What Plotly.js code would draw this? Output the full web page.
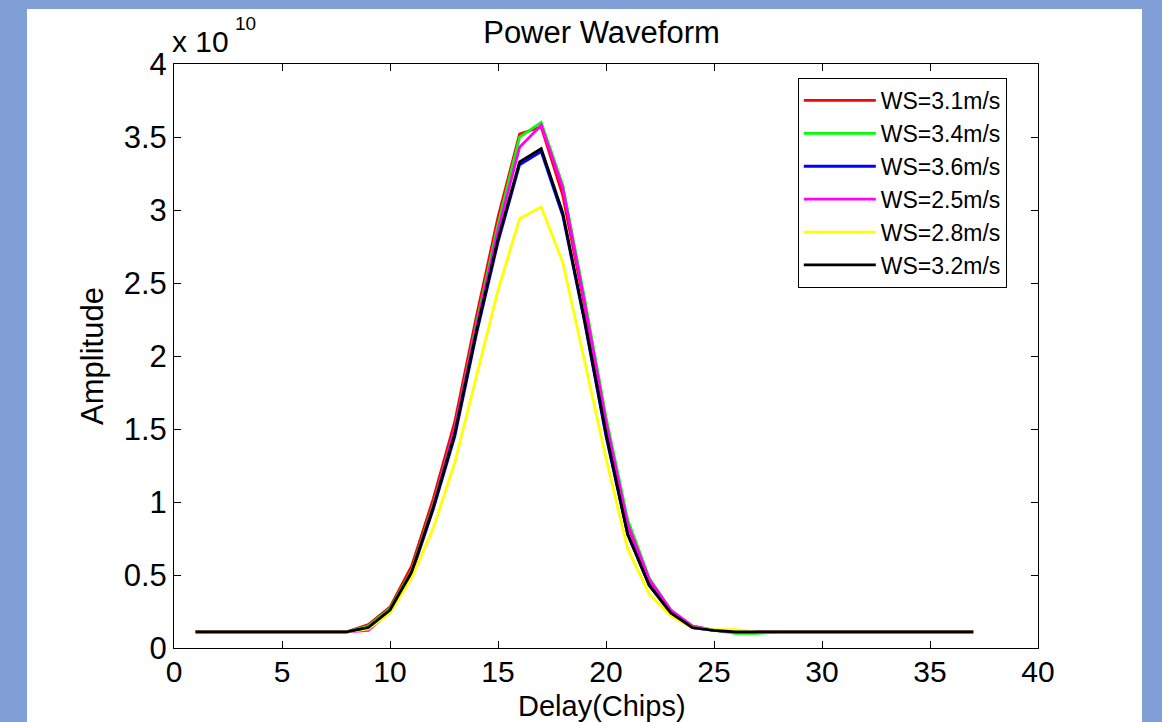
<!DOCTYPE html>
<html>
<head>
<meta charset="utf-8">
<script src="https://cdn.plot.ly/plotly-3.0.1.min.js"></script>
<style>
  html, body { margin: 0; padding: 0; background: #7f9fd6; width: 1162px; height: 722px; overflow: hidden; }
  #chart { position: absolute; left: 27px; top: 9px; width: 1115px; height: 713px; background: #ffffff; }
</style>
</head>
<body>
<div id="chart"></div>
<script>
// Delay in chips
const delay = [1,2,3,4,5,6,7,8,9,10,11,12,13,14,15,16,17,18,19,20,21,22,23,24,25,26,27,28,29,30,31,32,33,34,35,36,37];

// Amplitudes in units of 1e10
const SCALE = 1e10;
const ws31 = [0.11,0.11,0.11,0.11,0.11,0.11,0.11,0.11,0.16,0.28,0.56,1.02,1.55,2.27,2.95,3.52,3.57,3.10,2.35,1.52,0.84,0.46,0.25,0.15,0.12,0.11,0.11,0.11,0.11,0.11,0.11,0.11,0.11,0.11,0.11,0.11,0.11];
const ws34 = [0.11,0.11,0.11,0.11,0.11,0.11,0.11,0.11,0.15,0.27,0.53,0.98,1.50,2.22,2.90,3.50,3.60,3.17,2.40,1.58,0.88,0.48,0.26,0.15,0.12,0.10,0.10,0.11,0.11,0.11,0.11,0.11,0.11,0.11,0.11,0.11,0.11];
const ws36 = [0.11,0.11,0.11,0.11,0.11,0.11,0.11,0.11,0.14,0.26,0.51,0.95,1.45,2.15,2.78,3.31,3.40,2.96,2.24,1.45,0.78,0.43,0.24,0.14,0.12,0.11,0.11,0.11,0.11,0.11,0.11,0.11,0.11,0.11,0.11,0.11,0.11];
const ws25 = [0.11,0.11,0.11,0.11,0.11,0.11,0.11,0.11,0.12,0.25,0.52,0.97,1.50,2.20,2.86,3.43,3.58,3.15,2.37,1.55,0.85,0.47,0.26,0.15,0.12,0.11,0.11,0.11,0.11,0.11,0.11,0.11,0.11,0.11,0.11,0.11,0.11];
const ws28 = [0.11,0.11,0.11,0.11,0.11,0.11,0.11,0.11,0.13,0.24,0.48,0.82,1.27,1.85,2.45,2.94,3.02,2.64,1.96,1.30,0.68,0.37,0.22,0.14,0.125,0.125,0.11,0.11,0.11,0.11,0.11,0.11,0.11,0.11,0.11,0.11,0.11];
const ws32 = [0.11,0.11,0.11,0.11,0.11,0.11,0.11,0.11,0.14,0.26,0.52,0.96,1.47,2.17,2.80,3.33,3.42,2.98,2.25,1.47,0.78,0.43,0.24,0.14,0.12,0.11,0.11,0.11,0.11,0.11,0.11,0.11,0.11,0.11,0.11,0.11,0.11];

const seriesNames = ['WS=3.1m/s','WS=3.4m/s','WS=3.6m/s','WS=2.5m/s','WS=2.8m/s','WS=3.2m/s'];
const seriesData = [ws31, ws34, ws36, ws25, ws28, ws32];
const seriesColors = ['#ff0000','#00ff00','#0000ff','#ff00ff','#ffff00','#000000'];

const xTicks = [0,5,10,15,20,25,30,35,40];
const yTickVals = [0,0.5,1,1.5,2,2.5,3,3.5,4];
const yTickText = ['0','0.5','1','1.5','2','2.5','3','3.5','4'];

const FONT = 'Liberation Sans, Arial, Helvetica, sans-serif';
const BIG = 31;

const traces = seriesData.map((d, i) => ({
  x: delay,
  y: d.map(v => v * SCALE),
  type: 'scatter',
  mode: 'lines',
  name: seriesNames[i],
  line: { color: seriesColors[i], width: 2.8 },
  hoverinfo: 'x+y+name'
}));

const layout = {
  width: 1115,
  height: 713,
  paper_bgcolor: '#ffffff',
  plot_bgcolor: '#ffffff',
  margin: { l: 147, r: 104, t: 55, b: 74, pad: 0 },
  font: { family: FONT, color: '#000000', size: BIG },
  title: {
    text: 'Power Waveform',
    font: { family: FONT, size: BIG, color: '#000000' },
    x: 0.4948, xref: 'paper', xanchor: 'center',
    y: 0.968, yref: 'container', yanchor: 'middle'
  },
  showlegend: true,
  legend: {
    x: 0.722, y: 0.976, xanchor: 'left', yanchor: 'top',
    bgcolor: '#ffffff', bordercolor: '#000000', borderwidth: 1,
    font: { family: FONT, size: 23, color: '#000000' },
    itemwidth: 72
  },
  xaxis: {
    range: [0, 40],
    tickvals: xTicks,
    ticktext: xTicks.map(String),
    ticks: 'inside', ticklen: 7, tickwidth: 1, tickcolor: '#000000',
    ticklabelstandoff: -3,
    showline: true, linecolor: '#000000', linewidth: 1, mirror: 'ticks',
    showgrid: false, zeroline: false, automargin: false,
    tickfont: { family: FONT, size: 30, color: '#000000' }
  },
  yaxis: {
    range: [0, 4 * SCALE],
    tickvals: yTickVals.map(v => v * SCALE),
    ticktext: yTickText,
    ticks: 'inside', ticklen: 7, tickwidth: 1, tickcolor: '#000000',
    showline: true, linecolor: '#000000', linewidth: 1, mirror: 'ticks',
    showgrid: false, zeroline: false, automargin: false,
    tickfont: { family: FONT, size: BIG, color: '#000000' },
    title: { text: 'Amplitude', font: { family: FONT, size: BIG, color: '#000000' }, standoff: 10 }
  },
  annotations: [
    {
      text: 'Delay(Chips)',
      xref: 'paper', yref: 'paper',
      x: 0.4948, y: 0, xanchor: 'center', yanchor: 'top',
      yshift: -40,
      showarrow: false,
      font: { family: FONT, size: 29, color: '#000000' }
    },
    {
      text: 'x 10',
      xref: 'paper', yref: 'paper',
      x: 0, y: 1, xanchor: 'left', yanchor: 'bottom',
      yshift: 4, xshift: -4,
      showarrow: false,
      font: { family: FONT, size: 30, color: '#000000' }
    },
    {
      text: '10',
      xref: 'paper', yref: 'paper',
      x: 0.0671, y: 1, xanchor: 'left', yanchor: 'bottom',
      yshift: 28, xshift: 1,
      showarrow: false,
      font: { family: FONT, size: 19, color: '#000000' }
    }
  ]
};

Plotly.newPlot('chart', traces, layout, { displayModeBar: false, staticPlot: true });
</script>
</body>
</html>
